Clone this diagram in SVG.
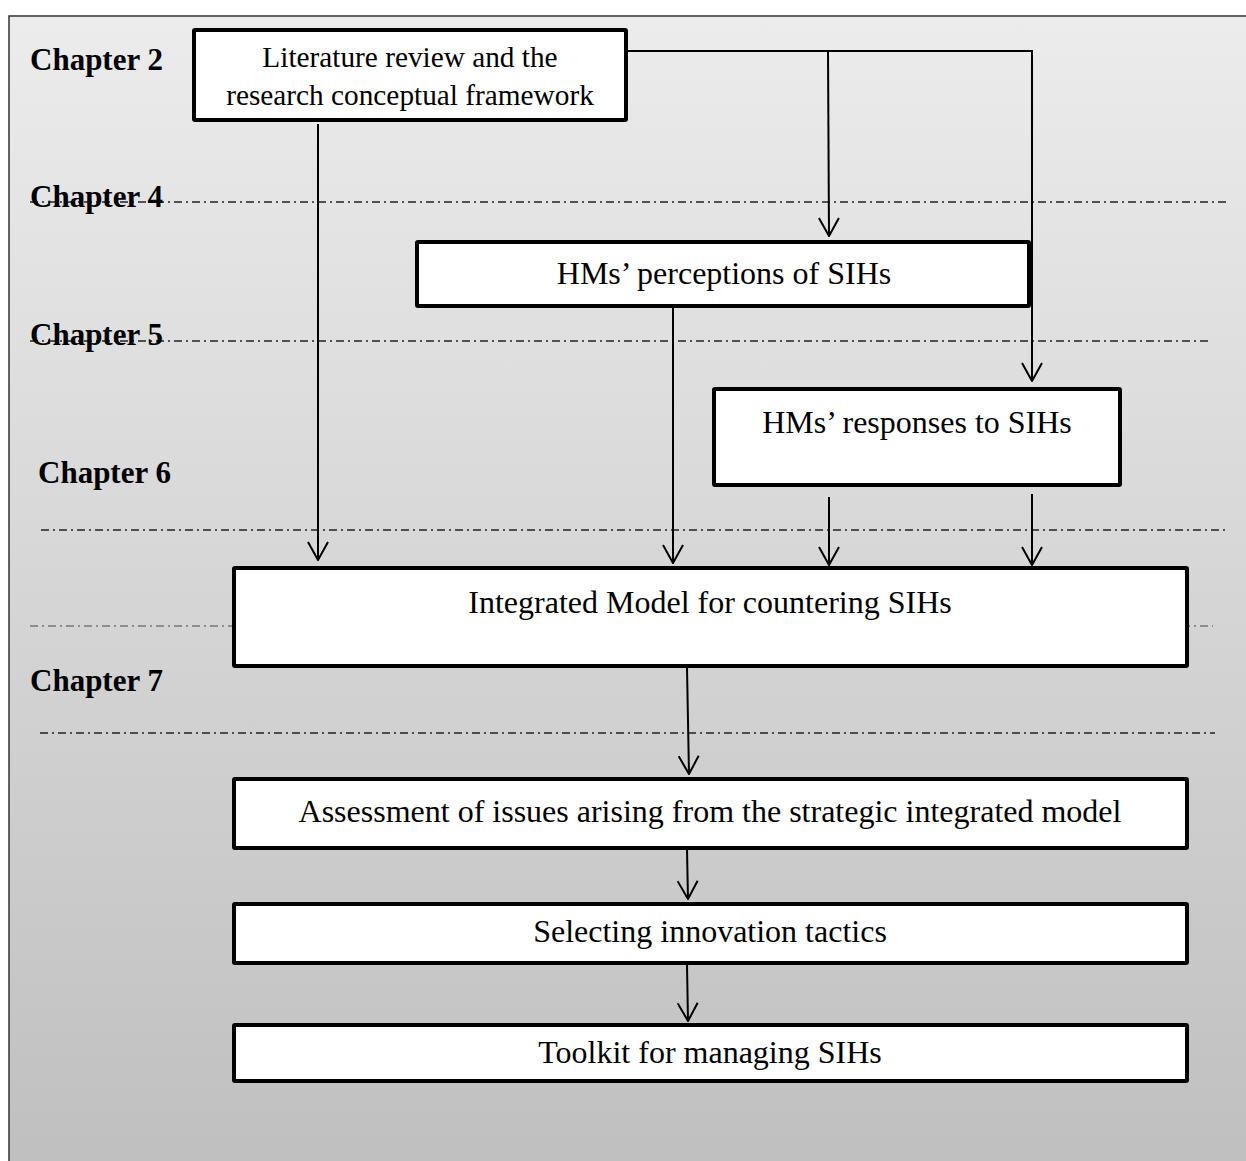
<svg xmlns="http://www.w3.org/2000/svg" width="1246" height="1161" viewBox="0 0 1246 1161">
  <defs>
    <linearGradient id="bg" x1="0" y1="0" x2="0" y2="1">
      <stop offset="0" stop-color="#ececec"/>
      <stop offset="1" stop-color="#bfbfbf"/>
    </linearGradient>
    <marker id="arr" viewBox="0 0 20 22" refX="19" refY="11" markerWidth="20" markerHeight="22" markerUnits="userSpaceOnUse" orient="auto">
      <path d="M1,1 L19,11 L1,21" fill="none" stroke="#000" stroke-width="2"/>
    </marker>
  </defs>
  <style>
    .node rect { fill: #fff; stroke: #000; stroke-width: 4; }
    .lbl { font-family: "Liberation Serif", "Times New Roman", serif; font-size: 32px; fill: #000; text-anchor: middle; }
    .ch { font-family: "Liberation Serif", "Times New Roman", serif; font-size: 31px; font-weight: bold; fill: #000; }
    .sep { stroke: #222; stroke-width: 1.3; stroke-dasharray: 8 4 2 4; fill: none; }
    .conn line, .conn path { stroke: #000; stroke-width: 2; fill: none; }
  </style>

  <rect x="9" y="16" width="1250" height="1160" fill="url(#bg)" stroke="#333" stroke-width="1.5"/>

  <g id="separators">
    <line class="sep" x1="30" y1="202" x2="1230" y2="202"/>
    <line class="sep" x1="30" y1="341" x2="1210" y2="341"/>
    <line class="sep" x1="41" y1="530" x2="1225" y2="530"/>
    <line class="sep" x1="30" y1="626" x2="1213" y2="626" style="stroke:#777"/>
    <line class="sep" x1="40" y1="733" x2="1215" y2="733"/>
  </g>

  <g id="chapters">
    <text class="ch" x="30" y="70">Chapter 2</text>
    <text class="ch" x="30" y="207">Chapter 4</text>
    <text class="ch" x="30" y="345">Chapter 5</text>
    <text class="ch" x="38" y="483">Chapter 6</text>
    <text class="ch" x="30" y="691">Chapter 7</text>
  </g>

  <g id="connectors" class="conn">
    <line x1="318" y1="124" x2="318" y2="560" marker-end="url(#arr)"/>
    <path d="M628,51 L1032,51 L1032,381" marker-end="url(#arr)"/>
    <line x1="828" y1="51" x2="829" y2="236" marker-end="url(#arr)"/>
    <line x1="673" y1="308" x2="673" y2="563" marker-end="url(#arr)"/>
    <line x1="829" y1="497" x2="829" y2="565" marker-end="url(#arr)"/>
    <line x1="1032" y1="494" x2="1032" y2="565" marker-end="url(#arr)"/>
    <line x1="687" y1="668" x2="689" y2="774" marker-end="url(#arr)"/>
    <line x1="687" y1="850" x2="688" y2="899" marker-end="url(#arr)"/>
    <line x1="687" y1="965" x2="688" y2="1021" marker-end="url(#arr)"/>
  </g>

  <g id="n1" class="node">
    <rect x="194" y="30" width="432" height="90" rx="1"/>
    <text class="lbl" x="410" y="67" style="font-size:29.3px">Literature review and the</text>
    <text class="lbl" x="410" y="105" style="font-size:29.3px">research conceptual framework</text>
  </g>
  <g id="n2" class="node">
    <rect x="417" y="242" width="612" height="64" rx="1"/>
    <text class="lbl" x="724" y="284">HMs’ perceptions of SIHs</text>
  </g>
  <g id="n3" class="node">
    <rect x="714" y="389" width="406" height="96" rx="1"/>
    <text class="lbl" x="917" y="433">HMs’ responses to SIHs</text>
  </g>
  <g id="n4" class="node">
    <rect x="234" y="568" width="953" height="98" rx="1"/>
    <text class="lbl" x="710" y="613">Integrated Model for countering SIHs</text>
  </g>
  <g id="n5" class="node">
    <rect x="234" y="779" width="953" height="69" rx="1"/>
    <text class="lbl" x="710" y="822">Assessment of issues arising from the strategic integrated model</text>
  </g>
  <g id="n6" class="node">
    <rect x="234" y="904" width="953" height="59" rx="1"/>
    <text class="lbl" x="710" y="942">Selecting innovation tactics</text>
  </g>
  <g id="n7" class="node">
    <rect x="234" y="1025" width="953" height="56" rx="1"/>
    <text class="lbl" x="710" y="1063">Toolkit for managing SIHs</text>
  </g>
</svg>
